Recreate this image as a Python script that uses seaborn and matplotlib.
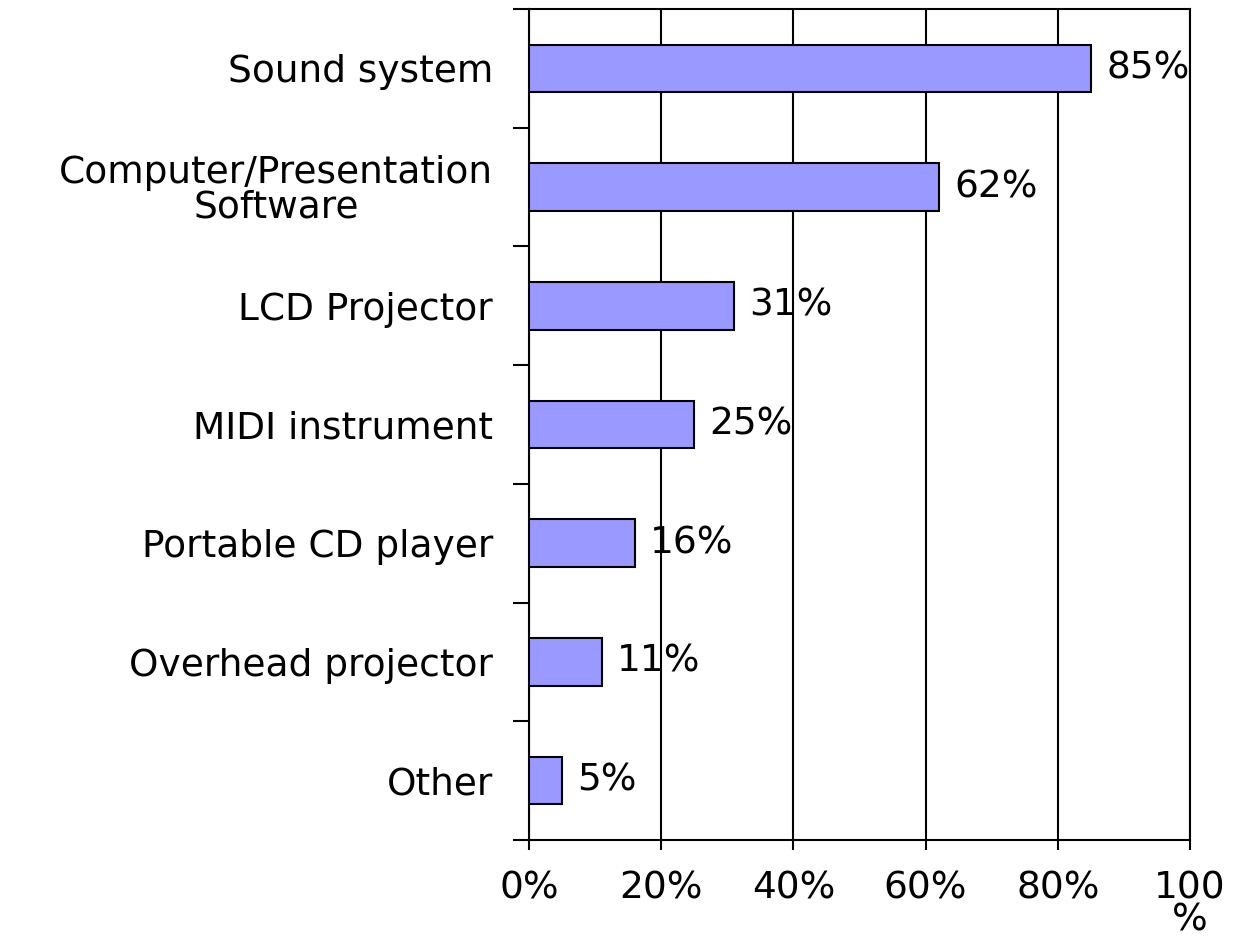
import matplotlib
matplotlib.use("Agg")
import matplotlib.pyplot as plt
import seaborn as sns
import pandas as pd

categories = ["Sound system", "Computer/Presentation\nSoftware", "LCD Projector",
              "MIDI instrument", "Portable CD player", "Overhead projector", "Other"]
values = [85, 62, 31, 25, 16, 11, 5]
value_labels = ["85%", "62%", "31%", "25%", "16%", "11%", "5%"]
xticks = [0, 20, 40, 60, 80, 100]
xtick_labels = ["0%", "20%", "40%", "60%", "80%", "100\n%"]

sns.set_theme(style="white")
plt.rcParams['font.family'] = ['DejaVu Sans']
plt.rcParams['text.color'] = 'black'
plt.rcParams['xtick.labelcolor'] = 'black'
plt.rcParams['ytick.labelcolor'] = 'black'

FS = 27

df = pd.DataFrame({"cat": categories, "val": values})

fig = plt.figure(figsize=(12.34, 9.38), dpi=100)
ax = fig.add_axes([529/1234, 1 - 840/938, (1190 - 529)/1234, (840 - 9)/938])

sns.barplot(data=df, x="val", y="cat", orient="h", width=0.4,
            color="#9999FF", saturation=1, edgecolor="black", linewidth=1.5, ax=ax, zorder=3)

ax.set_xlim(0, 100)
ax.set_ylim(len(categories) - 0.5, -0.5)
ax.set_xticks(xticks)
ax.set_xticklabels(xtick_labels, fontsize=FS, linespacing=0.85)
ax.set_yticks([i - 0.5 for i in range(len(categories) + 1)], minor=False)
ax.set_yticklabels([])
ax.set_yticks(list(range(len(categories))), minor=True)
ax.set_yticklabels(categories, minor=True, fontsize=FS, multialignment="center",
                   linespacing=0.95)
ax.tick_params(axis="y", which="major", left=True, length=11.5, width=1.5, color="black")
ax.tick_params(axis="y", which="minor", left=False, length=0, pad=26)
ax.tick_params(axis="x", bottom=True, length=7, width=1.5, color="black", pad=15)
ax.set_xlabel("")
ax.set_ylabel("")

ax.grid(axis="x", color="black", linewidth=1.5)
ax.set_axisbelow(True)
for s in ax.spines.values():
    s.set_visible(True)
    s.set_color("black")
    s.set_linewidth(1.5)

for i, (v, lab) in enumerate(zip(values, value_labels)):
    ax.annotate(lab, xy=(v, i), xytext=(11, 0), textcoords="offset points",
                va="center", ha="left", fontsize=FS, color="black", zorder=5)

fig.savefig("out.png", dpi=100)
